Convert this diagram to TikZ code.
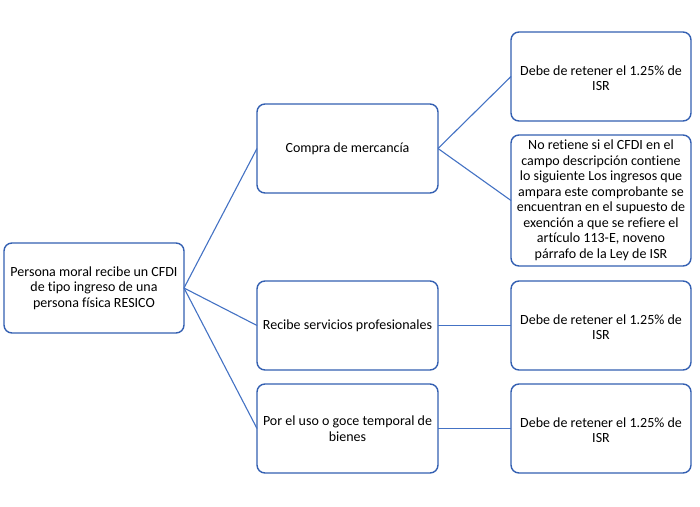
\documentclass[tikz,border=0pt]{standalone}
\usepackage{fontspec}
\setmainfont[Ligatures=NoCommon]{Carlito}
\begin{document}
\begin{tikzpicture}[x=1pt,y=-1pt,
  box/.style={draw={rgb,255:red,52;green,96;blue,178},line width=1.4pt,rounded corners=8pt,fill=white},
  lbl/.style={align=center,font=\fontsize{14}{15.5}\selectfont,inner sep=0pt},
  link/.style={draw={rgb,255:red,68;green,114;blue,196},line width=1.1pt}]
\useasboundingbox[fill=white] (0,0) rectangle (700,506);
% boxes
\path[box] (4,243) rectangle (184,333);
\coordinate (rootL) at (4,288); \coordinate (rootR) at (184,288);
\node[lbl] (root) at (94,288) {Persona moral recibe un CFDI\\de tipo ingreso de una\\persona física RESICO};

\path[box] (257,104) rectangle (438,193);
\coordinate (cL) at (257,148.5); \coordinate (cR) at (438,148.5);
\node[lbl] (compra) at (347.5,148.5) {Compra de mercancía};

\path[box] (257,281) rectangle (438,370);
\coordinate (rL) at (257,325.5); \coordinate (rR) at (438,325.5);
\node[lbl] (recibe) at (347.5,325.5) {Recibe servicios profesionales};

\path[box] (257,384) rectangle (438,473);
\coordinate (pL) at (257,428.5); \coordinate (pR) at (438,428.5);
\node[lbl] (uso) at (347.5,428.5) {Por el uso o goce temporal de\\bienes};

\path[box] (511,32) rectangle (691,121);
\coordinate (d1L) at (511,76.5);
\node[lbl] (d1) at (601,78) {Debe de retener el 1.25\% de\\ISR};

\path[box] (511,135) rectangle (691,266);
\coordinate (nL) at (511,200.5);
\node[lbl] (no) at (601,200.5) {No retiene si el CFDI en el\\campo descripción contiene\\lo siguiente Los ingresos que\\ampara este comprobante se\\encuentran en el supuesto de\\exención a que se refiere el\\artículo 113-E, noveno\\párrafo de la Ley de ISR};

\path[box] (511,281) rectangle (691,370);
\coordinate (d2L) at (511,325.5);
\node[lbl] (d2) at (601,327) {Debe de retener el 1.25\% de\\ISR};

\path[box] (511,384) rectangle (691,473);
\coordinate (d3L) at (511,428.5);
\node[lbl] (d3) at (601,430) {Debe de retener el 1.25\% de\\ISR};

% connectors
\draw[link] (rootR) -- (cL);
\draw[link] (rootR) -- (rL);
\draw[link] (rootR) -- (pL);
\draw[link] (cR) -- (d1L);
\draw[link] (cR) -- (nL);
\draw[link] (rR) -- (d2L);
\draw[link] (pR) -- (d3L);
\end{tikzpicture}
\end{document}
